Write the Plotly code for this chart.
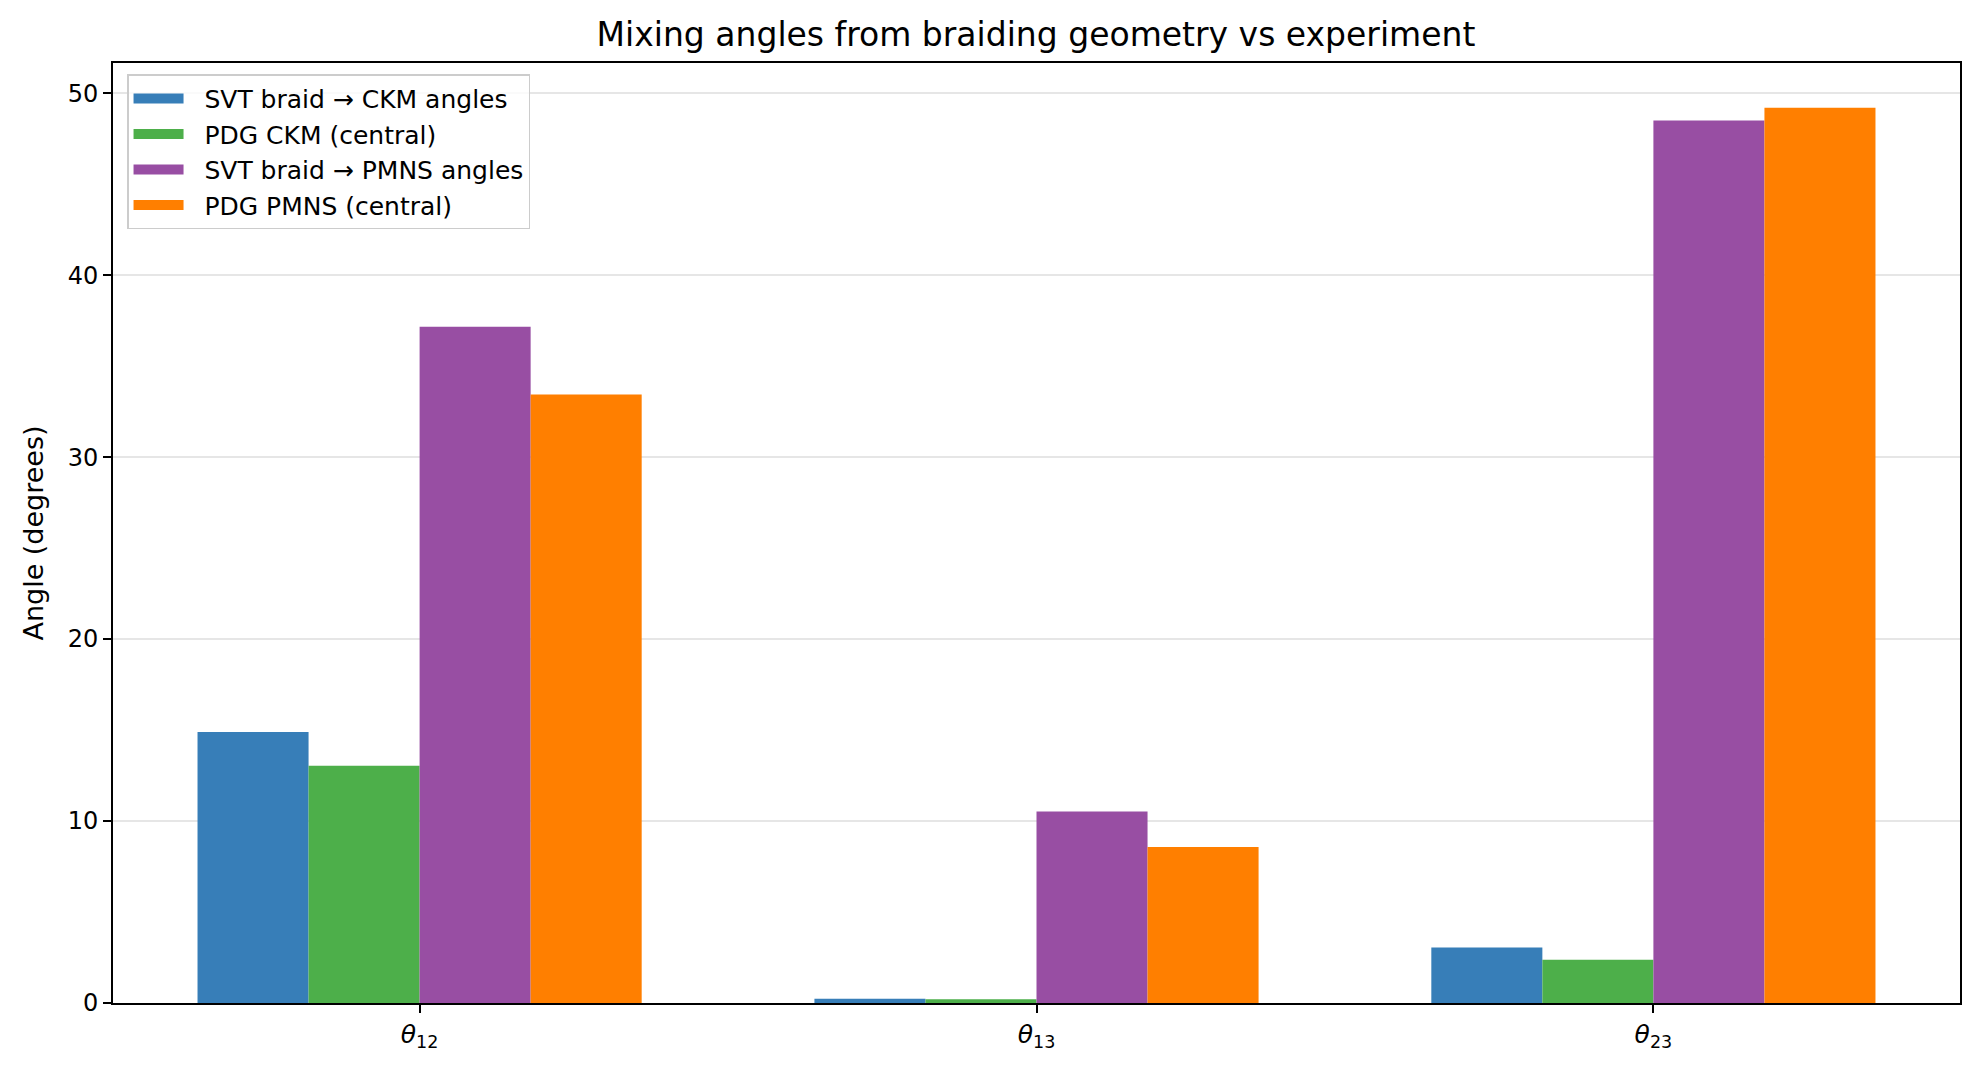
import plotly.graph_objects as go

categories = ["<i>θ</i><sub>12</sub>", "<i>θ</i><sub>13</sub>", "<i>θ</i><sub>23</sub>"]
svt_ckm = [14.9, 0.23, 3.05]
pdg_ckm = [13.04, 0.20, 2.38]
svt_pmns = [37.17, 10.52, 48.5]
pdg_pmns = [33.44, 8.57, 49.2]

series = [
    ("SVT braid → CKM angles", svt_ckm, "#377eb8"),
    ("PDG CKM (central)", pdg_ckm, "#4daf4a"),
    ("SVT braid → PMNS angles", svt_pmns, "#984ea3"),
    ("PDG PMNS (central)", pdg_pmns, "#ff7f00"),
]

xpos = list(range(len(categories)))
fig = go.Figure()
for name, vals, col in series:
    fig.add_trace(go.Bar(x=xpos, y=vals, name=name, showlegend=False,
                         marker=dict(color=col, line=dict(width=0))))
# legend entries drawn as wide colour patches
for name, vals, col in series:
    fig.add_trace(go.Scatter(x=[None], y=[None], mode="lines", name="\u00a0\u00a0" + name,
                             line=dict(color=col, width=17)))

font = "DejaVu Sans"
fig.update_layout(
    width=1980, height=1074,
    margin=dict(l=113, r=20, t=63, b=71),
    paper_bgcolor="white", plot_bgcolor="white",
    barmode="group", bargap=0.28, bargroupgap=0,
    font=dict(family=font, size=24, color="black"),
    title=dict(text="Mixing angles from braiding geometry vs experiment",
               x=1036 / 1980, xanchor="center", y=1 - 34 / 1074, yanchor="middle",
               font=dict(family=font, size=33, color="black")),
    legend=dict(x=0.0076, y=0.988, xanchor="left", yanchor="top",
                bgcolor="rgba(255,255,255,0.8)", bordercolor="#cccccc", borderwidth=1.5,
                font=dict(family=font, size=25), tracegroupgap=0, itemwidth=50),
    xaxis=dict(range=[-0.497, 2.497], tickvals=xpos, ticktext=categories,
               showline=True, linecolor="black", linewidth=1.8, mirror=True,
               ticks="outside", ticklen=8, tickwidth=1.8, tickcolor="black",
               showgrid=False, zeroline=False, tickfont=dict(size=25)),
    yaxis=dict(range=[0, 51.66], tickvals=[0, 10, 20, 30, 40, 50],
               showline=True, linecolor="black", linewidth=1.8, mirror=True,
               ticks="outside", ticklen=8, tickwidth=1.8, tickcolor="black",
               showgrid=True, gridcolor="#e6e6e6", gridwidth=1.5, zeroline=False,
               title=dict(text="Angle (degrees)", font=dict(size=27), standoff=16),
               tickfont=dict(size=24)),
)

fig.write_html("out.html")
